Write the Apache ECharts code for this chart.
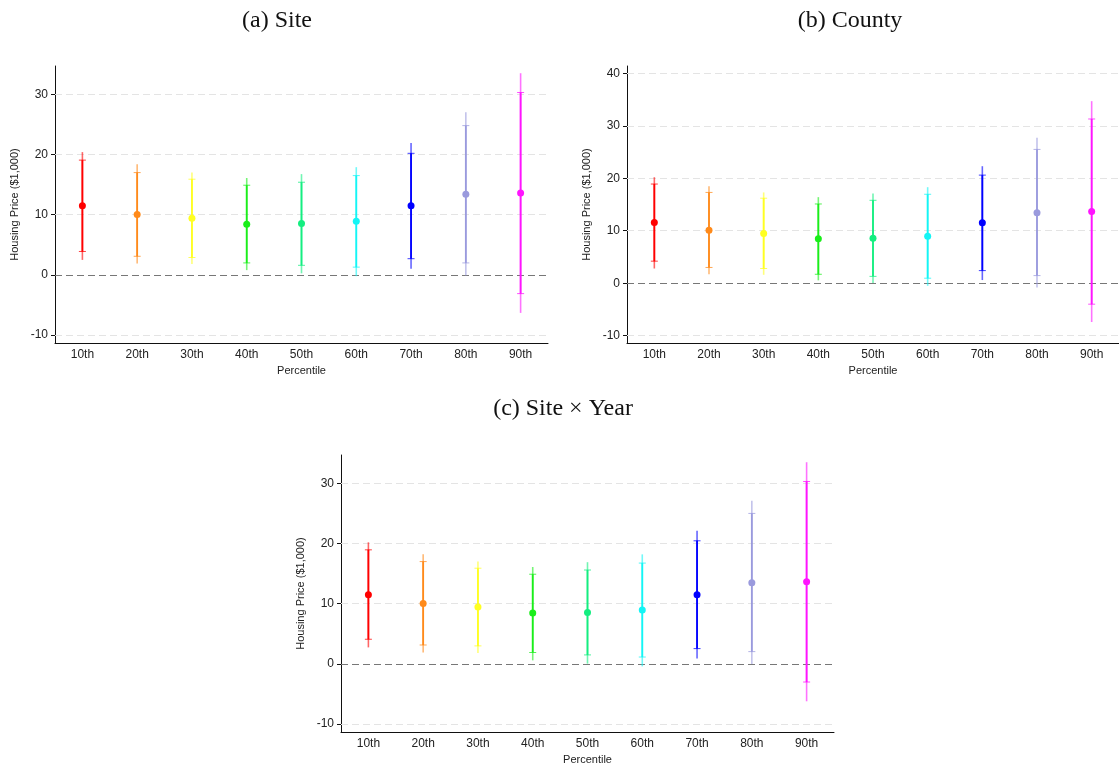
<!DOCTYPE html>
<html>
<head>
<meta charset="utf-8">
<script src="https://cdn.jsdelivr.net/npm/echarts@6/dist/echarts.min.js"></script>
<style>
  html, body { margin: 0; padding: 0; background: #fff; }
  #chart { width: 1119px; height: 769px; }
</style>
</head>
<body>
<div id="chart"></div>
<script>
// Percentile categories shown on every x axis
const percentiles = ['10th', '20th', '30th', '40th', '50th', '60th', '70th', '80th', '90th'];

// (a) Site fixed effects: point estimate, inner CI, outer CI
const siteEst    = [11.5, 10.05, 9.4, 8.4, 8.56, 8.9, 11.5, 13.4, 13.6];
const siteInLo   = [3.9, 3.1, 2.9, 2.0, 1.6, 1.3, 2.7, 2.0, -3.1];
const siteInHi   = [19.07, 17.0, 15.9, 14.9, 15.4, 16.5, 20.2, 24.8, 30.3];
const siteOutLo  = [2.5, 1.9, 1.8, 0.8, 0.27, -0.2, 1.05, -0.1, -6.3];
const siteOutHi  = [20.4, 18.4, 17.0, 16.1, 16.75, 17.9, 21.9, 27.0, 33.5];

// (b) County fixed effects
const countyEst   = [11.55, 10.1, 9.45, 8.45, 8.55, 8.95, 11.5, 13.45, 13.65];
const countyInLo  = [4.2, 3.0, 2.8, 1.7, 1.3, 0.95, 2.4, 1.45, -4.0];
const countyInHi  = [18.9, 17.3, 16.2, 15.1, 15.8, 16.95, 20.6, 25.5, 31.3];
const countyOutLo = [2.8, 1.7, 1.6, 0.55, 0.05, -0.5, 0.6, -0.8, -7.4];
const countyOutHi = [20.2, 18.5, 17.3, 16.4, 17.1, 18.3, 22.3, 27.7, 34.7];

// (c) Site x Year fixed effects
const syEst   = [11.5, 10.05, 9.45, 8.45, 8.56, 8.95, 11.5, 13.5, 13.65];
const syInLo  = [4.1, 3.15, 3.0, 1.9, 1.5, 1.15, 2.55, 2.05, -3.0];
const syInHi  = [18.95, 17.0, 15.9, 14.9, 15.6, 16.75, 20.45, 25.0, 30.3];
const syOutLo = [2.75, 1.9, 1.8, 0.6, 0.05, -0.4, 0.9, 0.0, -6.2];
const syOutHi = [20.2, 18.2, 17.0, 16.1, 16.9, 18.2, 22.1, 27.1, 33.5];

// Y tick labels per panel
const siteTicks = [-10, 0, 10, 20, 30];
const countyTicks = [-10, 0, 10, 20, 30, 40];
const syTicks = [-10, 0, 10, 20, 30];

const panelTitles = ['(a) Site', '(b) County', '(c) Site \u00d7 Year'];
const yName = 'Housing Price ($1,000)';
const xName = 'Percentile';

// One colour per percentile
const colors = ['#ff0000', '#ff8a1a', '#ffff22', '#1aee1a', '#14ee80', '#14f5f5', '#0000ff', '#9a9add', '#ff14ff'];

const panels = [
  { est: siteEst, inLo: siteInLo, inHi: siteInHi, outLo: siteOutLo, outHi: siteOutHi, ticks: siteTicks,
    min: -11.3, max: 34.7, grid: { left: 55, top: 66, width: 493, height: 277 }, title: [277, 21] },
  { est: countyEst, inLo: countyInLo, inHi: countyInHi, outLo: countyOutLo, outHi: countyOutHi, ticks: countyTicks,
    min: -11.4, max: 41.4, grid: { left: 627, top: 66, width: 492, height: 277 }, title: [850, 21] },
  { est: syEst, inLo: syInLo, inHi: syInHi, outLo: syOutLo, outHi: syOutHi, ticks: syTicks,
    min: -11.3, max: 34.7, grid: { left: 341, top: 455, width: 493, height: 277 }, title: [563, 409] }
];

const labelFont = { fontFamily: 'Liberation Sans', fontSize: 12, color: '#222' };

function errorBar(params, api) {
  const i = api.value(0);
  const c = colors[i];
  const m = api.coord([i, api.value(1)]);
  const a = api.coord([i, api.value(2)]);
  const b = api.coord([i, api.value(3)]);
  const lo = api.coord([i, api.value(4)]);
  const hi = api.coord([i, api.value(5)]);
  const x = m[0];
  const cap = 3.5;
  return {
    type: 'group',
    children: [
      { type: 'line', shape: { x1: x, y1: lo[1], x2: x, y2: hi[1] },
        style: { stroke: c, lineWidth: 1.6, opacity: 0.6 } },
      { type: 'line', shape: { x1: x, y1: a[1], x2: x, y2: b[1] },
        style: { stroke: c, lineWidth: 1.8 } },
      { type: 'line', shape: { x1: x - cap, y1: a[1], x2: x + cap, y2: a[1] },
        style: { stroke: c, lineWidth: 1, opacity: 0.75 } },
      { type: 'line', shape: { x1: x - cap, y1: b[1], x2: x + cap, y2: b[1] },
        style: { stroke: c, lineWidth: 1, opacity: 0.75 } },
      { type: 'circle', shape: { cx: x, cy: m[1], r: 3.5 },
        style: { fill: c } }
    ]
  };
}

const option = {
  animation: false,
  backgroundColor: '#fff',
  grid: [],
  xAxis: [],
  yAxis: [],
  series: [],
  graphic: []
};

panels.forEach((p, k) => {
  option.graphic.push({
    type: 'text',
    x: p.title[0],
    y: p.title[1],
    style: {
      text: panelTitles[k],
      textAlign: 'center',
      textVerticalAlign: 'middle',
      fontFamily: 'Liberation Serif',
      fontSize: 24,
      fill: '#111'
    }
  });
  option.grid.push(Object.assign({ containLabel: false }, p.grid));
  option.xAxis.push({
    type: 'category',
    gridIndex: k,
    data: percentiles,
    boundaryGap: true,
    name: xName,
    nameLocation: 'middle',
    nameGap: 22,
    nameTextStyle: { fontFamily: 'Liberation Sans', fontSize: 11, color: '#222', verticalAlign: 'top' },
    axisLine: { onZero: false, lineStyle: { color: '#111', width: 1 } },
    axisTick: { alignWithLabel: true, length: 5, lineStyle: { color: '#111' } },
    axisLabel: Object.assign({ margin: 6, interval: 0 }, labelFont),
    splitLine: { show: false }
  });
  option.yAxis.push({
    type: 'value',
    gridIndex: k,
    min: p.min,
    max: p.max,
    name: yName,
    nameLocation: 'middle',
    nameGap: 35,
    nameTextStyle: { fontFamily: 'Liberation Sans', fontSize: 11, color: '#222' },
    axisLine: { show: true, onZero: false, lineStyle: { color: '#111', width: 1 } },
    axisTick: { show: true, length: 4, customValues: p.ticks, lineStyle: { color: '#111' } },
    axisLabel: Object.assign({ margin: 7, customValues: p.ticks }, labelFont),
    splitLine: { show: false }
  });
  // horizontal guide lines at each tick, zero drawn darker
  option.series.push({
    type: 'line',
    xAxisIndex: k,
    yAxisIndex: k,
    data: [],
    silent: true,
    markLine: {
      silent: true,
      symbol: 'none',
      label: { show: false },
      data: p.ticks.map(t => ({
        yAxis: t,
        lineStyle: t === 0
          ? { color: '#777', type: [7, 4], width: 1.2 }
          : { color: '#e4e4e4', type: [7, 4], width: 1 }
      }))
    }
  });
  option.series.push({
    type: 'custom',
    xAxisIndex: k,
    yAxisIndex: k,
    renderItem: errorBar,
    data: percentiles.map((_, i) => [i, p.est[i], p.inLo[i], p.inHi[i], p.outLo[i], p.outHi[i]]),
    z: 5
  });
});

const chart = echarts.init(document.getElementById('chart'), null, { renderer: 'canvas' });
chart.setOption(option);
</script>
</body>
</html>
